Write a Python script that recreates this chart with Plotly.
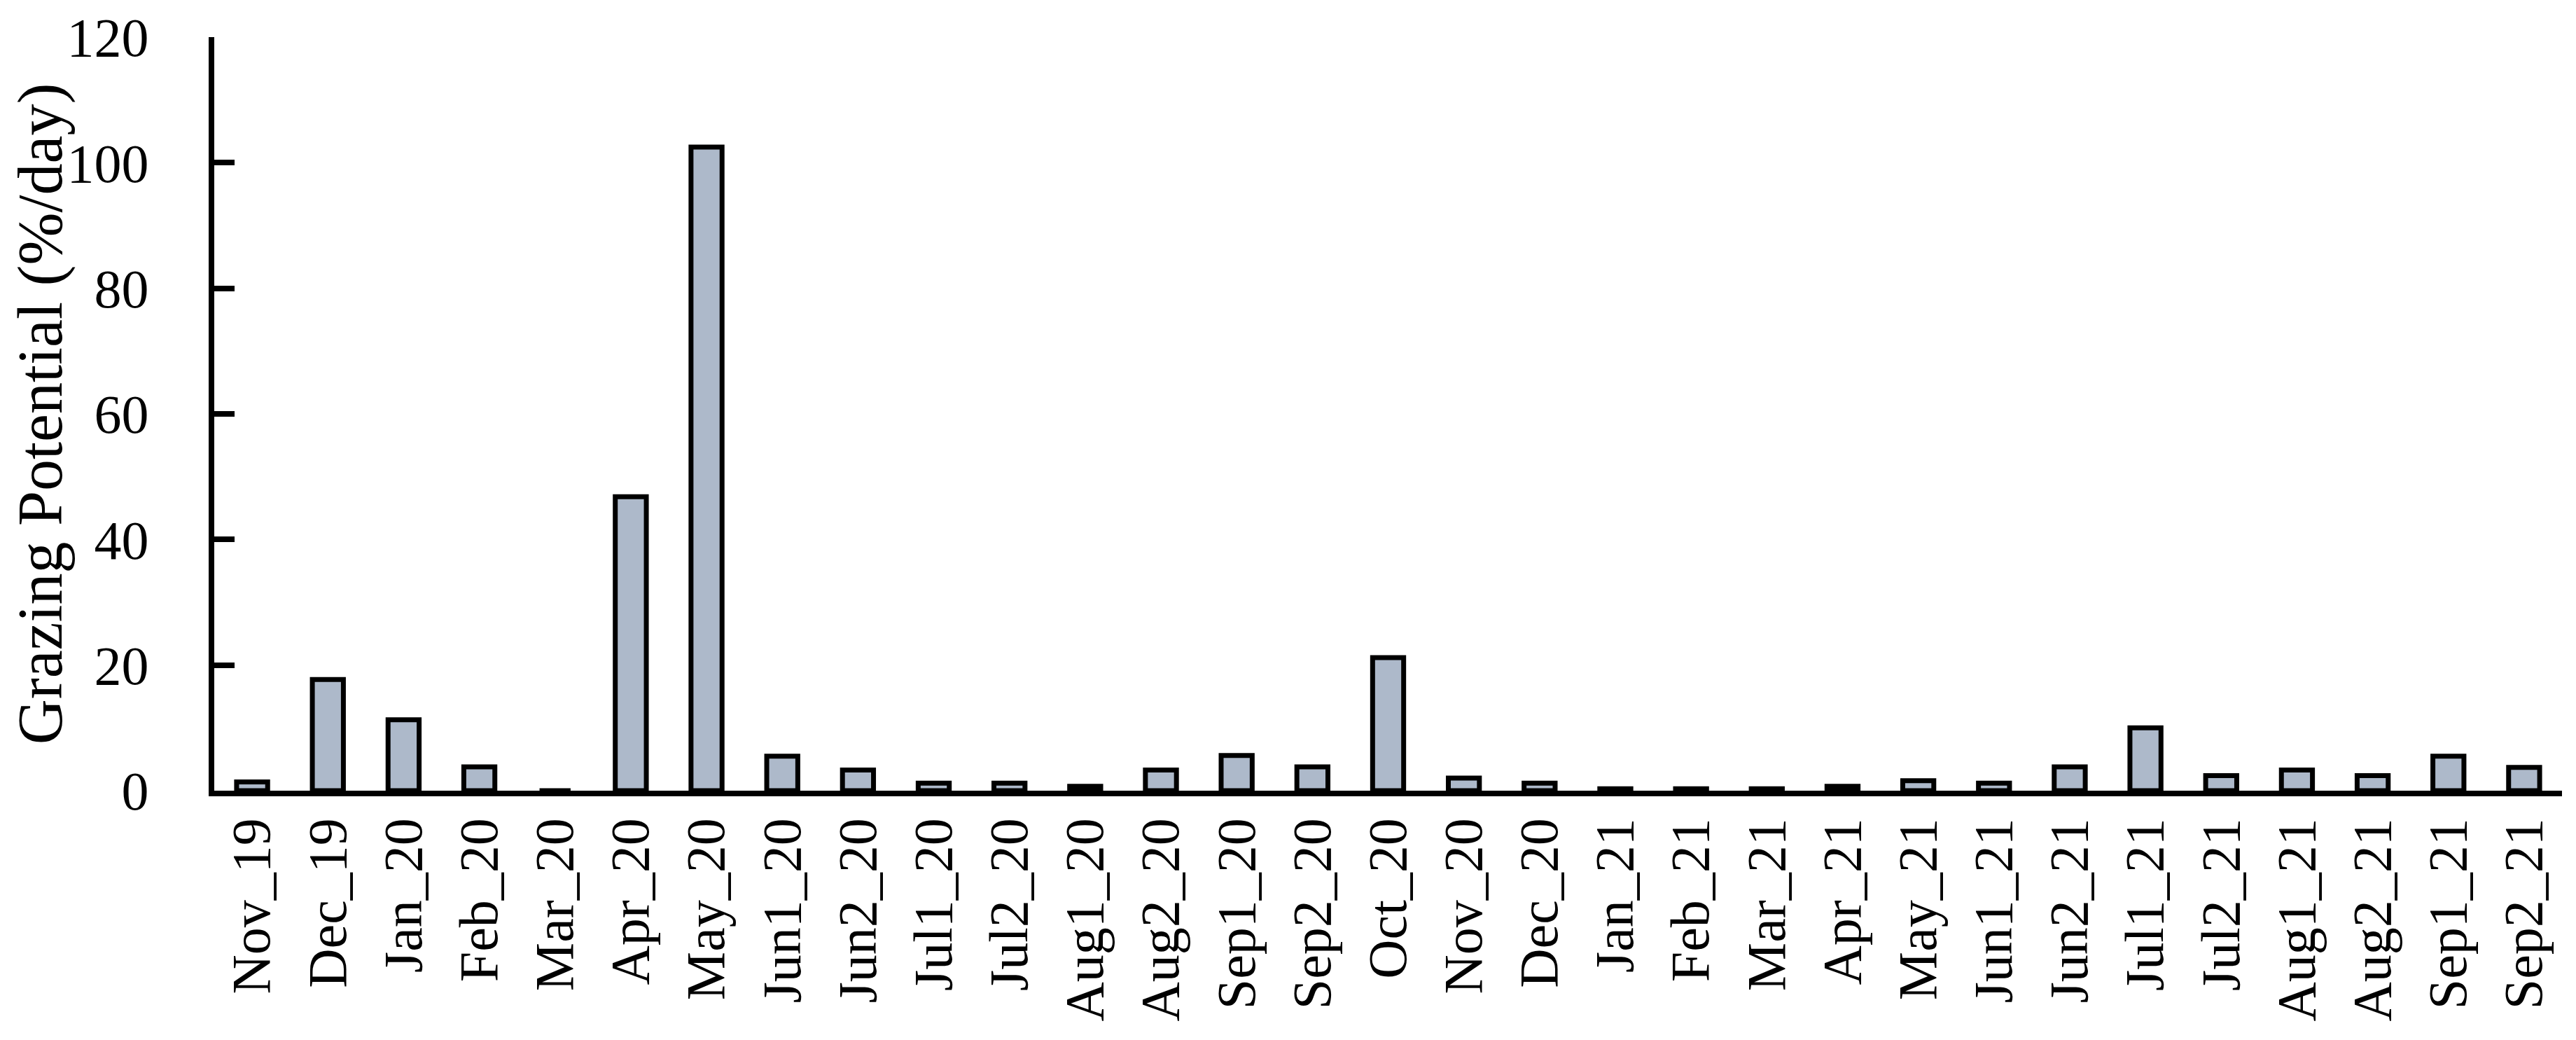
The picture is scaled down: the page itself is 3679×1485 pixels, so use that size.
import plotly.graph_objects as go

categories = ["Nov_19", "Dec_19", "Jan_20", "Feb_20", "Mar_20", "Apr_20", "May_20",
              "Jun1_20", "Jun2_20", "Jul1_20", "Jul2_20", "Aug1_20", "Aug2_20",
              "Sep1_20", "Sep2_20", "Oct_20", "Nov_20", "Dec_20", "Jan_21", "Feb_21",
              "Mar_21", "Apr_21", "May_21", "Jun1_21", "Jun2_21", "Jul1_21", "Jul2_21",
              "Aug1_21", "Aug2_21", "Sep1_21", "Sep2_21"]
grazing = [1.4, 17.7, 11.3, 3.8, 0.0, 46.8, 102.5,
           5.5, 3.3, 1.2, 1.2, 0.7, 3.3,
           5.6, 3.8, 21.2, 2.0, 1.2, 0.3, 0.3,
           0.3, 0.7, 1.6, 1.2, 3.8, 10.0, 2.4,
           3.3, 2.4, 5.5, 3.7]
y_ticks = [0, 20, 40, 60, 80, 100, 120]

FONT = "Liberation Serif"

fig = go.Figure()
fig.add_trace(go.Bar(
    x=categories,
    y=grazing,
    marker=dict(color="#ADB9CA", line=dict(color="black", width=7)),
    showlegend=False,
))

fig.update_layout(
    width=3679, height=1485,
    margin=dict(l=298, r=28, t=45, b=364),
    paper_bgcolor="white", plot_bgcolor="white",
    bargap=0.59,
    font=dict(family=FONT, size=78, color="black"),
)
fig.update_xaxes(
    type="category",
    range=[-0.5, len(categories) - 0.5],
    showline=True, linewidth=8, linecolor="black",
    ticks="", tickangle=-90, showgrid=False,
    tickfont=dict(family=FONT, size=78, color="black"),
    automargin=False,
)
fig.update_yaxes(
    range=[0, 120], tickvals=y_ticks,
    showline=True, linewidth=8, linecolor="black",
    ticks="inside", ticklen=29, tickwidth=8, tickcolor="black",
    showgrid=False, zeroline=False,
    tickfont=dict(family=FONT, size=78, color="black"),
    ticklabelstandoff=70,
    automargin=False,
    title=dict(text="Grazing Potential (%/day)", font=dict(family=FONT, size=90, color="black"), standoff=15),
)

fig.write_html("out.html")
